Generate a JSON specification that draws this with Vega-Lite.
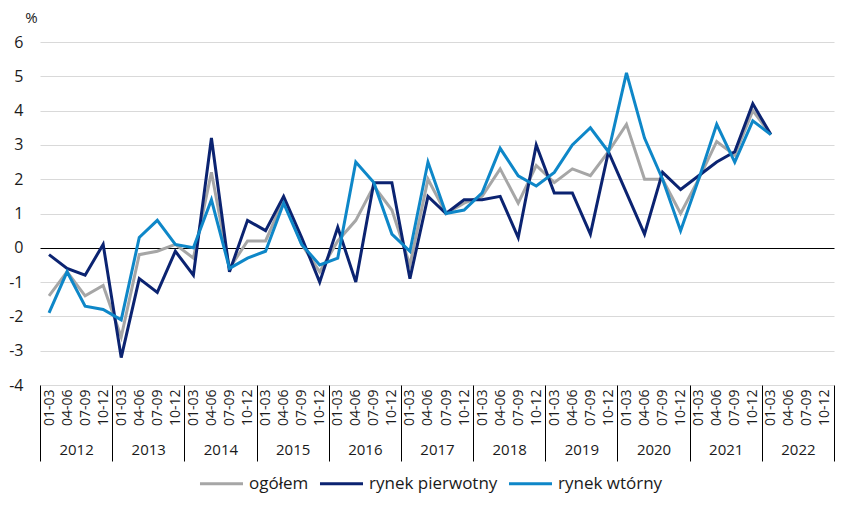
{
  "$schema": "https://vega.github.io/schema/vega-lite/v6.json",
  "width": 794,
  "height": 343,
  "autosize": {"type": "none"},
  "padding": {"left": 40, "top": 42, "right": 11, "bottom": 138},
  "config": {
    "font": "Open Sans",
    "view": {"stroke": null},
    "axis": {"labelColor": "#1a1a1a", "titleColor": "#1a1a1a"}
  },
  "data": {
    "values": [
      {"rok": "2012", "okres": "2012 01-03", "ogółem": -1.4, "rynek pierwotny": -0.2, "rynek wtórny": -1.9},
      {"rok": "2012", "okres": "2012 04-06", "ogółem": -0.7, "rynek pierwotny": -0.6, "rynek wtórny": -0.7},
      {"rok": "2012", "okres": "2012 07-09", "ogółem": -1.4, "rynek pierwotny": -0.8, "rynek wtórny": -1.7},
      {"rok": "2012", "okres": "2012 10-12", "ogółem": -1.1, "rynek pierwotny": 0.1, "rynek wtórny": -1.8},
      {"rok": "2013", "okres": "2013 01-03", "ogółem": -2.6, "rynek pierwotny": -3.2, "rynek wtórny": -2.1},
      {"rok": "2013", "okres": "2013 04-06", "ogółem": -0.2, "rynek pierwotny": -0.9, "rynek wtórny": 0.3},
      {"rok": "2013", "okres": "2013 07-09", "ogółem": -0.1, "rynek pierwotny": -1.3, "rynek wtórny": 0.8},
      {"rok": "2013", "okres": "2013 10-12", "ogółem": 0.1, "rynek pierwotny": -0.1, "rynek wtórny": 0.1},
      {"rok": "2014", "okres": "2014 01-03", "ogółem": -0.3, "rynek pierwotny": -0.8, "rynek wtórny": 0.0},
      {"rok": "2014", "okres": "2014 04-06", "ogółem": 2.2, "rynek pierwotny": 3.2, "rynek wtórny": 1.4},
      {"rok": "2014", "okres": "2014 07-09", "ogółem": -0.6, "rynek pierwotny": -0.7, "rynek wtórny": -0.6},
      {"rok": "2014", "okres": "2014 10-12", "ogółem": 0.2, "rynek pierwotny": 0.8, "rynek wtórny": -0.3},
      {"rok": "2015", "okres": "2015 01-03", "ogółem": 0.2, "rynek pierwotny": 0.5, "rynek wtórny": -0.1},
      {"rok": "2015", "okres": "2015 04-06", "ogółem": 1.4, "rynek pierwotny": 1.5, "rynek wtórny": 1.3},
      {"rok": "2015", "okres": "2015 07-09", "ogółem": 0.1, "rynek pierwotny": 0.3, "rynek wtórny": 0.1},
      {"rok": "2015", "okres": "2015 10-12", "ogółem": -0.7, "rynek pierwotny": -1.0, "rynek wtórny": -0.5},
      {"rok": "2016", "okres": "2016 01-03", "ogółem": 0.2, "rynek pierwotny": 0.6, "rynek wtórny": -0.3},
      {"rok": "2016", "okres": "2016 04-06", "ogółem": 0.8, "rynek pierwotny": -1.0, "rynek wtórny": 2.5},
      {"rok": "2016", "okres": "2016 07-09", "ogółem": 1.8, "rynek pierwotny": 1.9, "rynek wtórny": 1.9},
      {"rok": "2016", "okres": "2016 10-12", "ogółem": 1.1, "rynek pierwotny": 1.9, "rynek wtórny": 0.4},
      {"rok": "2017", "okres": "2017 01-03", "ogółem": -0.5, "rynek pierwotny": -0.9, "rynek wtórny": -0.1},
      {"rok": "2017", "okres": "2017 04-06", "ogółem": 2.0, "rynek pierwotny": 1.5, "rynek wtórny": 2.5},
      {"rok": "2017", "okres": "2017 07-09", "ogółem": 1.0, "rynek pierwotny": 1.0, "rynek wtórny": 1.0},
      {"rok": "2017", "okres": "2017 10-12", "ogółem": 1.3, "rynek pierwotny": 1.4, "rynek wtórny": 1.1},
      {"rok": "2018", "okres": "2018 01-03", "ogółem": 1.5, "rynek pierwotny": 1.4, "rynek wtórny": 1.6},
      {"rok": "2018", "okres": "2018 04-06", "ogółem": 2.3, "rynek pierwotny": 1.5, "rynek wtórny": 2.9},
      {"rok": "2018", "okres": "2018 07-09", "ogółem": 1.3, "rynek pierwotny": 0.3, "rynek wtórny": 2.1},
      {"rok": "2018", "okres": "2018 10-12", "ogółem": 2.4, "rynek pierwotny": 3.0, "rynek wtórny": 1.8},
      {"rok": "2019", "okres": "2019 01-03", "ogółem": 1.9, "rynek pierwotny": 1.6, "rynek wtórny": 2.2},
      {"rok": "2019", "okres": "2019 04-06", "ogółem": 2.3, "rynek pierwotny": 1.6, "rynek wtórny": 3.0},
      {"rok": "2019", "okres": "2019 07-09", "ogółem": 2.1, "rynek pierwotny": 0.4, "rynek wtórny": 3.5},
      {"rok": "2019", "okres": "2019 10-12", "ogółem": 2.8, "rynek pierwotny": 2.8, "rynek wtórny": 2.8},
      {"rok": "2020", "okres": "2020 01-03", "ogółem": 3.6, "rynek pierwotny": 1.6, "rynek wtórny": 5.1},
      {"rok": "2020", "okres": "2020 04-06", "ogółem": 2.0, "rynek pierwotny": 0.4, "rynek wtórny": 3.2},
      {"rok": "2020", "okres": "2020 07-09", "ogółem": 2.0, "rynek pierwotny": 2.2, "rynek wtórny": 2.0},
      {"rok": "2020", "okres": "2020 10-12", "ogółem": 1.0, "rynek pierwotny": 1.7, "rynek wtórny": 0.5},
      {"rok": "2021", "okres": "2021 01-03", "ogółem": 2.0, "rynek pierwotny": 2.1, "rynek wtórny": 2.0},
      {"rok": "2021", "okres": "2021 04-06", "ogółem": 3.1, "rynek pierwotny": 2.5, "rynek wtórny": 3.6},
      {"rok": "2021", "okres": "2021 07-09", "ogółem": 2.7, "rynek pierwotny": 2.8, "rynek wtórny": 2.5},
      {"rok": "2021", "okres": "2021 10-12", "ogółem": 4.0, "rynek pierwotny": 4.2, "rynek wtórny": 3.7},
      {"rok": "2022", "okres": "2022 01-03", "ogółem": 3.3, "rynek pierwotny": 3.3, "rynek wtórny": 3.3}
    ]
  },
  "transform": [
    {"fold": ["ogółem", "rynek pierwotny", "rynek wtórny"], "as": ["seria", "wartosc"]}
  ],
  "encoding": {
    "y": {
      "field": "wartosc",
      "type": "quantitative",
      "scale": {"domain": [-4, 6], "nice": false, "zero": false},
      "axis": {
        "title": "%",
        "titleAngle": 0,
        "titleX": -9,
        "titleY": -25,
        "titleAlign": "center",
        "titleBaseline": "middle",
        "titleFontSize": 15,
        "titleFontWeight": "normal",
        "values": [-4, -3, -2, -1, 0, 1, 2, 3, 4, 5, 6],
        "labelOverlap": false,
        "labelExpr": "toString(datum.value)",
        "labelFontSize": 16,
        "labelPadding": 17,
        "ticks": false,
        "domain": false,
        "gridColor": {"condition": {"test": "datum.value === 0", "value": "#000000"}, "value": "#d9d9d9"},
        "gridWidth": 1
      }
    }
  },
  "layer": [
    {
      "mark": {"type": "point", "opacity": 0},
      "encoding": {
        "x": {
          "field": "rok",
          "type": "ordinal",
          "scale": {"type": "band", "paddingInner": 0, "paddingOuter": 0},
          "axis": {
            "orient": "bottom",
            "title": null,
            "domain": false,
            "grid": false,
            "ticks": true,
            "tickBand": "extent",
            "tickSize": 76,
            "tickColor": "#000000",
            "tickWidth": 1,
            "labelAngle": 0,
            "labelFontSize": 15,
            "labelPadding": -19
          }
        }
      }
    },
    {
      "mark": {"type": "line", "strokeWidth": 3},
      "encoding": {
        "x": {
          "field": "okres",
          "type": "ordinal",
          "scale": {
            "domain": [
              "2012 01-03", "2012 04-06", "2012 07-09", "2012 10-12",
              "2013 01-03", "2013 04-06", "2013 07-09", "2013 10-12",
              "2014 01-03", "2014 04-06", "2014 07-09", "2014 10-12",
              "2015 01-03", "2015 04-06", "2015 07-09", "2015 10-12",
              "2016 01-03", "2016 04-06", "2016 07-09", "2016 10-12",
              "2017 01-03", "2017 04-06", "2017 07-09", "2017 10-12",
              "2018 01-03", "2018 04-06", "2018 07-09", "2018 10-12",
              "2019 01-03", "2019 04-06", "2019 07-09", "2019 10-12",
              "2020 01-03", "2020 04-06", "2020 07-09", "2020 10-12",
              "2021 01-03", "2021 04-06", "2021 07-09", "2021 10-12",
              "2022 01-03", "2022 04-06", "2022 07-09", "2022 10-12"
            ]
          },
          "axis": {
            "orient": "bottom",
            "title": null,
            "labelExpr": "split(datum.label, ' ')[1]",
            "labelAngle": 270,
            "labelFontSize": 14,
            "labelPadding": 4,
            "ticks": false,
            "domain": false,
            "grid": false
          }
        },
        "color": {
          "field": "seria",
          "type": "nominal",
          "scale": {
            "domain": ["ogółem", "rynek pierwotny", "rynek wtórny"],
            "range": ["#a6a6a6", "#0b2371", "#0e87c8"]
          },
          "legend": {
            "title": null,
            "orient": "none",
            "direction": "horizontal",
            "legendX": 158,
            "legendY": 418,
            "symbolType": "stroke",
            "symbolSize": 1850,
            "symbolStrokeWidth": 3,
            "labelFontSize": 17,
            "labelFontWeight": "normal",
            "labelColor": "#1a1a1a",
            "labelOffset": 4,
            "columnPadding": 4
          }
        }
      }
    }
  ],
  "resolve": {"scale": {"x": "independent"}, "axis": {"x": "independent"}}
}
